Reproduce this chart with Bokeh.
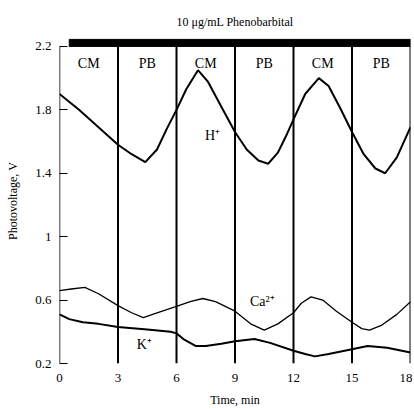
from bokeh.plotting import figure
from bokeh.models import Range1d, FixedTicker
from bokeh.core.properties import value
from bokeh.embed import file_html
from bokeh.resources import INLINE

FONT = "Liberation Serif"

# data
h_x = [0, 1, 2, 3, 3.7, 4.4, 5.0, 5.5, 6.0, 6.5, 7.1, 7.6, 8.3, 9.0, 9.6, 10.2, 10.7,
       11.2, 11.6, 12.0, 12.6, 13.3, 13.8, 14.4, 15.0, 15.6, 16.2, 16.7, 17.3, 18.0]
h_y = [1.90, 1.80, 1.69, 1.58, 1.52, 1.47, 1.55, 1.68, 1.80, 1.93, 2.05, 1.98, 1.82, 1.66,
       1.55, 1.48, 1.46, 1.53, 1.63, 1.74, 1.90, 2.00, 1.95, 1.81, 1.66, 1.52, 1.43, 1.40,
       1.50, 1.69]

ca_x = [0, 0.6, 1.3, 2.0, 3.0, 3.7, 4.3, 5.0, 6.0, 6.7, 7.35, 8.0, 9.0, 9.8, 10.5, 11.2,
        12.0, 12.4, 12.9, 13.5, 14.2, 15.0, 15.5, 15.9, 16.5, 17.3, 18.0]
ca_y = [0.66, 0.67, 0.68, 0.64, 0.565, 0.52, 0.49, 0.52, 0.56, 0.59, 0.61, 0.59, 0.53,
        0.45, 0.41, 0.45, 0.52, 0.58, 0.62, 0.60, 0.53, 0.46, 0.42, 0.41, 0.44, 0.51, 0.59]

k_x = [0, 0.5, 1.2, 2.0, 3.0, 4.5, 5.7, 6.0, 6.4, 7.0, 7.5, 8.3, 9.0, 10.0, 10.8, 12.0,
       12.6, 13.1, 13.8, 15.0, 15.8, 16.8, 18.0]
k_y = [0.51, 0.48, 0.46, 0.45, 0.43, 0.415, 0.40, 0.39, 0.35, 0.31, 0.31, 0.325, 0.34,
       0.355, 0.33, 0.28, 0.26, 0.245, 0.26, 0.29, 0.31, 0.30, 0.27]

boundaries = [3, 6, 9, 12, 15, 18]
phase_labels = ["CM", "PB", "CM", "PB", "CM", "PB"]
phase_centers = [1.5, 4.5, 7.5, 10.5, 13.5, 16.5]

x_ticks = [0, 3, 6, 9, 12, 15, 18]
y_ticks = [0.2, 0.6, 1.0, 1.4, 1.8, 2.2]
y_tick_labels = {0.2: "0.2", 0.6: "0.6", 1.0: "1", 1.4: "1.4", 1.8: "1.8", 2.2: "2.2"}

ion_labels = ["H\u207a", "Ca\u00b2\u207a", "K\u207a"]
ion_x = [7.85, 10.4, 4.35]
ion_y = [1.64, 0.59, 0.32]

y_min, y_max = 0.2, 2.2
bar_start, bar_top = 0.5, 2.245

p = figure(width=412, height=409, output_backend="svg", toolbar_location=None,
           x_range=Range1d(0, 18), y_range=Range1d(0.2, 2.25),
           min_border_left=59, min_border_right=2, min_border_top=38, min_border_bottom=42,
           title="10 \u03bcg/mL Phenobarbital")
p.title.text_font = FONT
p.title.text_font_size = "12px"
p.title.text_font_style = "normal"
p.title.text_color = "black"
p.title.align = "center"
p.title.offset = 22
p.title.standoff = 19
p.outline_line_color = None
p.grid.visible = False
p.background_fill_color = "white"

p.xaxis.ticker = FixedTicker(ticks=x_ticks)
p.xaxis.axis_line_color = None
p.xaxis.major_tick_line_color = None
p.xaxis.minor_tick_line_color = None
p.xaxis.major_label_text_font = FONT
p.xaxis.major_label_text_font_size = "13px"
p.xaxis.major_label_text_color = "black"
p.xaxis.major_label_standoff = 4
p.xaxis.axis_label = "Time, min"
p.xaxis.axis_label_text_font = FONT
p.xaxis.axis_label_text_font_size = "12px"
p.xaxis.axis_label_text_font_style = "normal"
p.xaxis.axis_label_text_color = "black"
p.xaxis.axis_label_standoff = 8

p.yaxis.ticker = FixedTicker(ticks=y_ticks)
p.yaxis.major_label_overrides = y_tick_labels
p.yaxis.axis_line_color = None
p.yaxis.major_tick_in = 8
p.yaxis.major_tick_out = 0
p.yaxis.major_tick_line_width = 1
p.yaxis.major_tick_line_color = "black"
p.yaxis.minor_tick_line_color = None
p.yaxis.major_label_text_font = FONT
p.yaxis.major_label_text_font_size = "13px"
p.yaxis.major_label_text_color = "black"
p.yaxis.major_label_standoff = 8
p.yaxis.axis_label = "Photovoltage, V"
p.yaxis.axis_label_text_font = FONT
p.yaxis.axis_label_text_font_size = "12px"
p.yaxis.axis_label_text_font_style = "normal"
p.yaxis.axis_label_text_color = "black"
p.yaxis.axis_label_standoff = 12

# left frame line and phase boundaries
p.segment(x0=[0], y0=[y_min], x1=[0], y1=[y_max], line_color="black", line_width=1.5)
p.segment(x0=boundaries, y0=[y_min] * len(boundaries), x1=boundaries,
          y1=[y_max] * len(boundaries), line_color="black", line_width=2)
# thick top bar
p.quad(left=[bar_start], right=[18], bottom=[y_max], top=[bar_top],
       fill_color="black", line_color="black")

# curves
p.line(h_x, h_y, line_color="black", line_width=2)
p.line(ca_x, ca_y, line_color="black", line_width=1.3)
p.line(k_x, k_y, line_color="black", line_width=2)

# phase labels
p.text(x=phase_centers, y=[2.09] * len(phase_centers), text=phase_labels,
       text_font=value(FONT), text_font_size="14px", text_align="center",
       text_baseline="middle", text_color="black")
# ion labels
p.text(x=ion_x, y=ion_y, text=ion_labels, text_font=value(FONT), text_font_size="14px",
       text_align="center", text_baseline="middle", text_color="black")

open("out.html", "w").write(file_html(p, INLINE))
